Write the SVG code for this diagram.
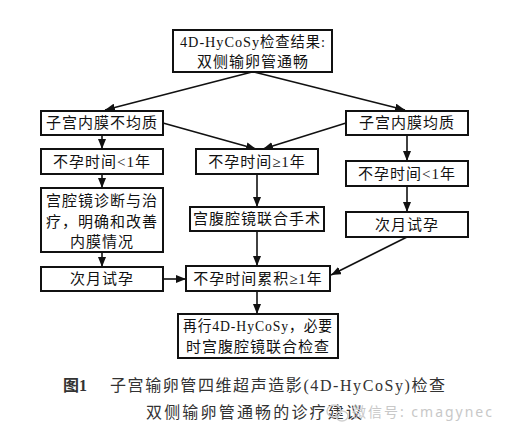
<svg xmlns="http://www.w3.org/2000/svg" width="508" height="444" viewBox="0 0 508 444">
<defs>
<style>
.box{fill:#fff;stroke:#111;stroke-width:2}
.t{font-family:"Liberation Serif","Noto Sans CJK SC",serif;font-size:15px;fill:#111;text-anchor:middle;letter-spacing:1px}
.c{stroke:#111;stroke-width:1.6;fill:none;marker-end:url(#ah)}
.cap{font-family:"Liberation Serif","Noto Sans CJK SC",serif;font-size:16px;fill:#333}
.wm{font-family:"Noto Sans","Noto Sans CJK SC",sans-serif;font-size:14px;fill:#c8c8c8}
</style>
<marker id="ah" viewBox="0 0 10 8" refX="10" refY="4" markerWidth="10" markerHeight="8" markerUnits="userSpaceOnUse" orient="auto">
<path d="M0,0 L10,4 L0,8 Z" fill="#111"/>
</marker>
</defs>
<rect width="508" height="444" fill="#fff"/>
<g id="connectors">
<line class="c" x1="252" y1="72" x2="105" y2="110"/>
<line class="c" x1="254" y1="72" x2="405" y2="110"/>
<line class="c" x1="163" y1="123" x2="256" y2="149"/>
<line class="c" x1="346" y1="123" x2="263" y2="149"/>
<line class="c" x1="102" y1="135" x2="102" y2="149"/>
<line class="c" x1="102" y1="174" x2="102" y2="188"/>
<line class="c" x1="102" y1="252" x2="102" y2="267"/>
<line class="c" x1="257" y1="174" x2="257" y2="207"/>
<line class="c" x1="257" y1="231" x2="257" y2="266"/>
<line class="c" x1="407" y1="135" x2="407" y2="161"/>
<line class="c" x1="407" y1="186" x2="407" y2="212"/>
<line class="c" x1="407" y1="237" x2="331" y2="275"/>
<line class="c" x1="163" y1="279" x2="186" y2="279"/>
<line class="c" x1="257" y1="291" x2="257" y2="314"/>
</g>
<g id="n_top">
<rect class="box" x="173" y="30" width="159" height="42"/>
<text class="t" x="253" y="47" textLength="146" lengthAdjust="spacingAndGlyphs">4D-HyCoSy检查结果:</text>
<text class="t" x="253" y="67">双侧输卵管通畅</text>
</g>
<g id="n_l1">
<rect class="box" x="41" y="111" width="122" height="24"/>
<text class="t" x="102" y="128">子宫内膜不均质</text>
</g>
<g id="n_r1">
<rect class="box" x="346" y="111" width="122" height="24"/>
<text class="t" x="407" y="128">子宫内膜均质</text>
</g>
<g id="n_l2">
<rect class="box" x="41" y="149" width="122" height="25"/>
<text class="t" x="102" y="167">不孕时间&lt;1年</text>
</g>
<g id="n_m2">
<rect class="box" x="196" y="149" width="122" height="25"/>
<text class="t" x="257" y="167">不孕时间≥1年</text>
</g>
<g id="n_r2">
<rect class="box" x="346" y="161" width="122" height="25"/>
<text class="t" x="407" y="179">不孕时间&lt;1年</text>
</g>
<g id="n_l3">
<rect class="box" x="41" y="188" width="122" height="64"/>
<text class="t" x="102" y="206">宫腔镜诊断与治</text>
<text class="t" x="102" y="227">疗，明确和改善</text>
<text class="t" x="102" y="247">内膜情况</text>
</g>
<g id="n_m3">
<rect class="box" x="190" y="207" width="134" height="24"/>
<text class="t" x="257" y="224">宫腹腔镜联合手术</text>
</g>
<g id="n_r3">
<rect class="box" x="346" y="212" width="122" height="25"/>
<text class="t" x="407" y="230">次月试孕</text>
</g>
<g id="n_l4">
<rect class="box" x="41" y="267" width="122" height="24"/>
<text class="t" x="102" y="284">次月试孕</text>
</g>
<g id="n_m4">
<rect class="box" x="186" y="266" width="144" height="25"/>
<text class="t" x="258" y="284">不孕时间累积≥1年</text>
</g>
<g id="n_final">
<rect class="box" x="178" y="314" width="160" height="44"/>
<text class="t" x="258" y="331" textLength="150" lengthAdjust="spacingAndGlyphs">再行4D-HyCoSy，必要</text>
<text class="t" x="258" y="352">时宫腹腔镜联合检查</text>
</g>
<g id="caption">
<text class="cap" x="63" y="391" font-weight="bold">图1</text>
<text class="cap" x="110" y="391" textLength="335" lengthAdjust="spacing">子宫输卵管四维超声造影(4D-HyCoSy)检查</text>
<text class="cap" x="146" y="418" textLength="216" lengthAdjust="spacing">双侧输卵管通畅的诊疗建议</text>
</g>
<g id="watermark">
<ellipse cx="334" cy="411" rx="7" ry="6" fill="none" stroke="#d0d0d0" stroke-width="1.5"/>
<ellipse cx="342" cy="416" rx="6" ry="5" fill="none" stroke="#d0d0d0" stroke-width="1.5"/>
<text class="wm" x="352" y="417" textLength="140" lengthAdjust="spacing">微信号: cmagynec</text>
</g>
</svg>
